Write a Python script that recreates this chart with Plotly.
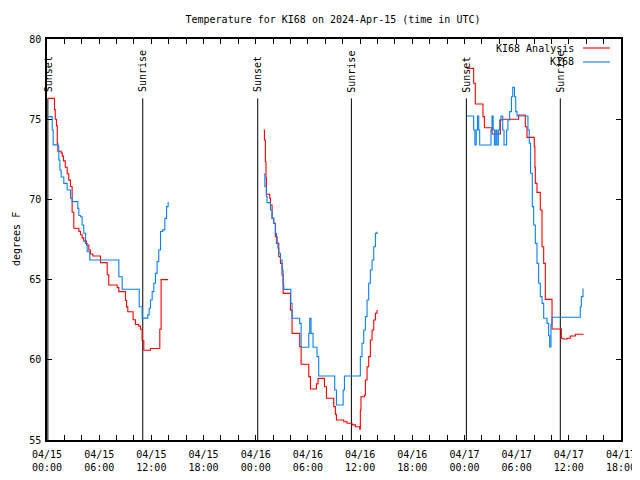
import plotly.graph_objects as go

# hours since 2024-04-15 00:00 UTC
analysis_hours = [
    0.1, 0.86, 0.95, 1.09, 1.18, 1.25, 1.63, 1.75, 1.9, 2.1, 2.32, 2.5, 2.7, 2.89, 3.08,
    3.66, 3.85, 4.04, 4.23, 4.54, 4.81, 5.0, 5.27, 6.15, 6.92, 7.1, 8.07, 8.26, 9.02, 9.15,
    9.29, 9.9, 10.17, 10.55, 10.75, 10.94, 11.13, 11.9, 12.97, 13.12, 13.93,
    None,
    24.92, 25.0, 25.11, 25.18, 25.23, 25.61, 25.69, 25.88, 26.07, 26.26, 26.46, 26.65, 26.84,
    27.03, 27.15, 27.99, 28.18, 29.06, 29.22, 30.1, 30.29, 30.98, 31.17, 31.9, 32.13, 32.97,
    33.16, 33.28, 34.12, 34.5, 35.08, 35.46, 35.96, 36.03, 36.1, 36.49, 36.61, 36.8, 36.99,
    37.18, 37.38, 37.57, 37.76, 37.95,
    None,
    48.3, 49.06, 49.25, 50.13, 50.29, 51.17, 52.13, 52.32, 54.23, 55.0, 55.19, 56.03, 56.1,
    56.15, 56.34, 56.72, 56.92, 57.11, 57.3, 58.07, 59.14, 59.33, 59.79, 60.17, 60.75, 61.7,
]
analysis_temp = [
    76.3, 75.6, 75.0, 74.6, 73.5, 73.0, 72.9, 72.7, 72.4, 72.0, 71.6, 71.2, 70.8, 69.2, 68.2,
    68.0, 67.8, 67.6, 67.4, 67.16, 66.85, 66.6, 66.47, 66.06, 65.3, 64.66, 64.5, 64.25, 63.7, 63.3,
    63.0, 62.5, 62.2, 62.1, 61.9, 61.2, 60.6, 60.7, 61.9, 65.0, 65.0,
    None,
    74.33, 73.7, 72.35, 71.3, 70.32, 70.07, 69.65, 68.82, 68.51, 67.68, 67.26, 66.43, 66.01,
    65.29, 64.14, 63.1, 61.65, 60.82, 59.72, 58.95, 58.18, 58.5, 58.84, 58.32, 57.6, 57.08,
    56.6, 56.25, 56.14, 56.04, 55.94, 55.83, 55.67, 56.87, 57.7, 57.8, 58.74, 59.57, 60.2,
    61.23, 61.86, 62.48, 62.9, 63.1,
    None,
    78.17, 77.24, 75.95, 75.16, 74.47, 74.08, 74.95, 75.0, 75.26, 74.53, 73.87, 73.29, 72.0,
    71.0, 70.44, 69.34, 67.05, 66.01, 63.77, 61.92, 61.34, 61.3, 61.34, 61.48, 61.59, 61.59,
]

obs_hours = [
    0.1, 0.6, 0.71, 1.25, 1.36, 1.48, 1.63, 1.93, 2.32, 2.7, 2.89, 3.54, 3.66, 3.85, 4.04,
    4.23, 4.43, 4.62, 4.92, 8.26, 8.64, 10.6, 10.94, 11.59, 11.75, 11.9, 12.09, 12.28, 12.47,
    12.66, 12.85, 13.05, 13.3, 13.55, 13.75, 13.93,
    None,
    24.92, 25.05, 25.23, 25.3, 25.69, 25.88, 26.07, 26.26, 26.38, 26.55, 26.65, 26.84, 27.03,
    27.15, 27.22, 28.03, 28.18, 29.06, 29.22, 30.1, 30.21, 30.36, 30.59, 31.05, 31.24, 33.08,
    33.28, 34.05, 34.2, 36.03, 36.22, 36.42, 36.61, 36.8, 36.99, 37.18, 37.38, 37.57, 37.76,
    37.95,
    None,
    48.3, 49.06, 49.2, 49.35, 49.5, 49.64, 49.75, 51.05, 51.17, 51.3, 51.45, 51.6, 51.74,
    51.9, 52.05, 52.2, 52.4, 52.55, 52.85, 53.0, 53.2, 53.4, 53.55, 53.75, 53.9, 54.04, 55.3,
    55.45, 55.6, 55.8, 55.96, 56.15, 56.34, 56.53, 56.72, 56.92, 57.11, 57.49, 57.68, 57.8,
    57.95, 58.07, 61.32, 61.44, 61.63,
]
obs_temp = [
    75.16, 74.33, 73.4, 73.3, 72.46, 71.83, 71.4, 71.0, 70.59, 70.07, 69.86, 69.44, 69.0, 68.92,
    68.4, 67.89, 67.26, 66.74, 66.22, 65.18, 64.4, 63.31, 62.6, 62.8, 63.21, 63.73, 64.25, 64.77,
    65.39, 66.12, 66.85, 68.0, 68.1, 68.82, 69.55, 69.86,
    None,
    71.58, 70.79, 70.17, 69.8, 69.34, 68.82, 68.51, 67.88, 67.26, 66.95, 66.64, 66.22, 65.6,
    64.77, 64.39, 63.52, 62.59, 62.27, 60.78, 61.65, 62.59, 61.65, 60.78, 60.2, 58.99, 58.12,
    57.18, 58.12, 58.99, 60.2, 61.03, 61.86, 62.69, 63.73, 64.77, 65.6, 66.22, 67.05, 67.88,
    67.99,
    None,
    75.2, 74.33, 73.39, 74.33, 75.2, 74.33, 73.39, 74.33, 75.2, 74.33, 73.39, 74.33, 73.39,
    74.33, 74.95, 75.2, 74.33, 73.39, 74.33, 74.95, 75.47, 76.4, 76.99, 76.4, 75.47, 75.2, 74.33,
    73.5, 71.63, 69.55, 68.4, 67.26, 66.01, 64.77, 63.94, 63.52, 62.59, 62.27, 61.5, 60.8,
    62.2, 62.65, 63.31, 63.94, 64.44,
]

sunset_hours = [0.1, 24.23, 48.22]
sunrise_hours = [11.01, 35.0, 59.02]
sun_line_top = 76.3

tick_hours = [0, 6, 12, 18, 24, 30, 36, 42, 48, 54, 60, 66]
tick_labels = ["04/15<br>00:00", "04/15<br>06:00", "04/15<br>12:00", "04/15<br>18:00",
               "04/16<br>00:00", "04/16<br>06:00", "04/16<br>12:00", "04/16<br>18:00",
               "04/17<br>00:00", "04/17<br>06:00", "04/17<br>12:00", "04/17<br>18:00"]
y_ticks = [55, 60, 65, 70, 75, 80]

FONT = "DejaVu Sans Mono"
FS = 10
OFF = 8  # page body margin of the browser
W, H = 640 - OFF, 480 - OFF
# plot-area edges in page pixels
L, R, T, B = 46.5, 621, 39, 440
PW, PH = R - L, B - T

fig = go.Figure()

# sunrise/sunset lines
for name, hours in (("Sunset", sunset_hours), ("Sunrise", sunrise_hours)):
    for h in hours:
        fig.add_trace(go.Scatter(x=[h, h], y=[55, sun_line_top], mode="lines",
                                 line=dict(color="black", width=1), showlegend=False,
                                 hoverinfo="skip"))
        fig.add_annotation(x=h, y=sun_line_top, text=name, textangle=-90, showarrow=False,
                           xanchor="center", yanchor="bottom", yshift=4,
                           font=dict(family=FONT, size=FS, color="black"))

fig.add_trace(go.Scatter(x=analysis_hours, y=analysis_temp, mode="lines", name="KI68 Analysis",
                         line=dict(color="#ff0000", width=1.1, shape="hv"), connectgaps=False))
fig.add_trace(go.Scatter(x=obs_hours, y=obs_temp, mode="lines", name="KI68",
                         line=dict(color="#0a80f5", width=1.1, shape="hv"), connectgaps=False))

# gnuplot-style legend (text left of sample)
for i, (label, color) in enumerate((("KI68 Analysis", "#ff0000"), ("KI68", "#0a80f5"))):
    ypix = 48 + 14 * i
    yp = 1 - (ypix - T) / PH
    fig.add_annotation(xref="paper", yref="paper", x=(576 - L) / PW, y=yp, text=label,
                       showarrow=False, xanchor="right", yanchor="middle",
                       font=dict(family=FONT, size=FS, color="black"))
    fig.add_shape(type="line", xref="paper", yref="paper",
                  x0=(583 - L) / PW, x1=(610 - L) / PW, y0=yp, y1=yp,
                  line=dict(color=color, width=1.1))

fig.add_annotation(xref="paper", yref="paper", x=(16 - L) / PW, y=0.5, text="degrees F",
                   textangle=-90, showarrow=False, xanchor="center", yanchor="middle",
                   font=dict(family=FONT, size=FS, color="black"))

fig.update_layout(
    width=W, height=H,
    margin=dict(l=L - OFF, r=640 - R, t=T - OFF, b=480 - B, autoexpand=False),
    paper_bgcolor="white", plot_bgcolor="white",
    showlegend=False,
    title=dict(text="Temperature for KI68 on 2024-Apr-15 (time in UTC)",
               x=(333 - OFF) / W, xanchor="center",
               y=1 - (19 - OFF) / H, yanchor="middle",
               font=dict(family=FONT, size=FS, color="black")),
    font=dict(family=FONT, size=FS, color="black"),
)
fig.update_xaxes(range=[0, 66], tickvals=tick_hours, ticktext=tick_labels, ticks="inside",
                 ticklen=5, tickcolor="black", showline=True, linecolor="black", linewidth=1.5,
                 mirror="ticks", showgrid=False, zeroline=False, automargin=False,
                 ticklabelstandoff=4,
                 minor=dict(dtick=2, tick0=0, ticks="inside", ticklen=5, tickcolor="black",
                            showgrid=False),
                 tickfont=dict(family=FONT, size=FS))
fig.update_yaxes(range=[55, 80], tickvals=y_ticks, ticks="inside", ticklen=5, tickcolor="black",
                 showline=True, linecolor="black", linewidth=1.5, mirror="ticks",
                 showgrid=False, zeroline=False, automargin=False, ticklabelstandoff=2,
                 tickfont=dict(family=FONT, size=FS))

fig.write_html("out.html")
